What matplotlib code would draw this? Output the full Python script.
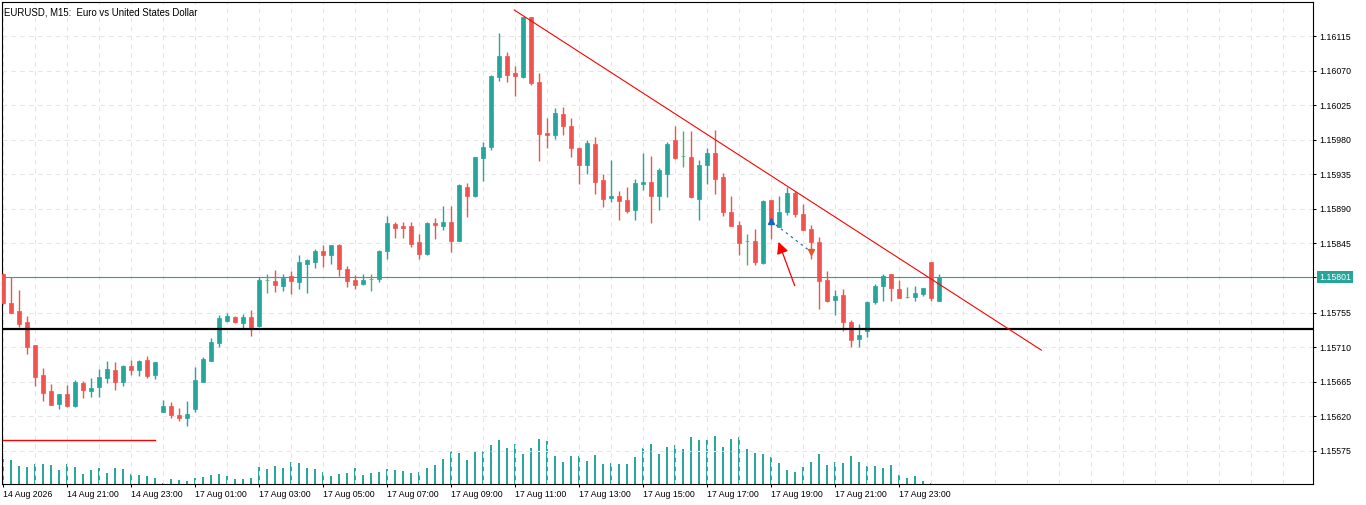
import numpy as np
import matplotlib
matplotlib.use("Agg")
import matplotlib.pyplot as plt

plt.rcParams['font.family'] = ['Liberation Sans', 'DejaVu Sans']

# EURUSD M15 candles, 14 Aug 2026 19:00 -> 18 Aug 00:15 (weekend skipped)
opens = [1.15805, 1.15767, 1.15757, 1.15743, 1.15713, 1.15674, 1.15653, 1.15636, 1.15649, 1.15633,
         1.15663, 1.15653, 1.15658, 1.15670, 1.15680, 1.15665, 1.15685, 1.15680, 1.15693, 1.15674,
         1.15625, 1.15633, 1.15622, 1.15618, 1.15629, 1.15665, 1.15692, 1.15715, 1.15744, 1.15749,
         1.15741, 1.15749, 1.15737, 1.15797, 1.15796, 1.15790, 1.15803, 1.15795, 1.15818, 1.15821,
         1.15835, 1.15830, 1.15843, 1.15812, 1.15797, 1.15792, 1.15799, 1.15799, 1.15835, 1.15870,
         1.15868, 1.15868, 1.15847, 1.15831, 1.15872, 1.15868, 1.15873, 1.15848, 1.15918, 1.15907,
         1.15956, 1.15971, 1.16062, 1.16089, 1.16067, 1.16062, 1.16140, 1.16055, 1.15989, 1.15986,
         1.16014, 1.15998, 1.15969, 1.15947, 1.15974, 1.15928, 1.15904, 1.15907, 1.15902, 1.15889,
         1.15922, 1.15925, 1.15907, 1.15935, 1.15980, 1.15959, 1.15958, 1.15903, 1.15947, 1.15963,
         1.15932, 1.15886, 1.15869, 1.15848, 1.15848, 1.15820, 1.15902, 1.15866, 1.15886, 1.15911,
         1.15883, 1.15864, 1.15847, 1.15797, 1.15771, 1.15778, 1.15743, 1.15721, 1.15731, 1.15769,
         1.15790, 1.15805, 1.15786, 1.15775, 1.15775, 1.15779, 1.15821, 1.15770]
highs = [1.15807, 1.15801, 1.15784, 1.15751, 1.15713, 1.15683, 1.15662, 1.15649, 1.15661, 1.15667,
         1.15666, 1.15670, 1.15681, 1.15692, 1.15691, 1.15687, 1.15693, 1.15693, 1.15698, 1.15691,
         1.15641, 1.15639, 1.15631, 1.15640, 1.15684, 1.15697, 1.15722, 1.15752, 1.15754, 1.15751,
         1.15753, 1.15758, 1.15801, 1.15805, 1.15810, 1.15805, 1.15809, 1.15830, 1.15825, 1.15838,
         1.15843, 1.15843, 1.15844, 1.15816, 1.15804, 1.15805, 1.15805, 1.15836, 1.15881, 1.15873,
         1.15873, 1.15873, 1.15857, 1.15873, 1.15878, 1.15894, 1.15894, 1.15922, 1.15924, 1.15958,
         1.15977, 1.16064, 1.16119, 1.16094, 1.16076, 1.16140, 1.16140, 1.16067, 1.16008, 1.16021,
         1.16023, 1.16008, 1.15971, 1.15980, 1.15984, 1.15935, 1.15954, 1.15913, 1.15918, 1.15929,
         1.15963, 1.15959, 1.15943, 1.15977, 1.15998, 1.15991, 1.15991, 1.15954, 1.15969, 1.15993,
         1.15937, 1.15907, 1.15874, 1.15857, 1.15864, 1.15902, 1.15902, 1.15907, 1.15918, 1.15913,
         1.15896, 1.15869, 1.15853, 1.15809, 1.15784, 1.15786, 1.15745, 1.15740, 1.15770, 1.15792,
         1.15805, 1.15805, 1.15797, 1.15788, 1.15790, 1.15787, 1.15821, 1.15805]
lows = [1.15766, 1.15754, 1.15736, 1.15701, 1.15659, 1.15640, 1.15635, 1.15629, 1.15632, 1.15632,
        1.15644, 1.15645, 1.15645, 1.15663, 1.15654, 1.15659, 1.15674, 1.15672, 1.15670, 1.15668,
        1.15625, 1.15618, 1.15614, 1.15607, 1.15625, 1.15665, 1.15692, 1.15710, 1.15743, 1.15741,
        1.15735, 1.15724, 1.15736, 1.15780, 1.15782, 1.15783, 1.15779, 1.15786, 1.15780, 1.15813,
        1.15814, 1.15818, 1.15803, 1.15788, 1.15786, 1.15791, 1.15783, 1.15795, 1.15825, 1.15852,
        1.15852, 1.15840, 1.15825, 1.15830, 1.15851, 1.15862, 1.15834, 1.15848, 1.15879, 1.15905,
        1.15926, 1.15967, 1.16057, 1.16055, 1.16037, 1.16060, 1.16051, 1.15952, 1.15969, 1.15981,
        1.15986, 1.15958, 1.15922, 1.15935, 1.15909, 1.15892, 1.15899, 1.15876, 1.15885, 1.15876,
        1.15915, 1.15872, 1.15889, 1.15905, 1.15955, 1.15945, 1.15904, 1.15876, 1.15922, 1.15909,
        1.15881, 1.15868, 1.15830, 1.15817, 1.15817, 1.15818, 1.15851, 1.15866, 1.15882, 1.15879,
        1.15862, 1.15825, 1.15760, 1.15769, 1.15752, 1.15731, 1.15710, 1.15710, 1.15723, 1.15766,
        1.15770, 1.15770, 1.15774, 1.15774, 1.15770, 1.15777, 1.15770, 1.15770]
closes = [1.15767, 1.15754, 1.15740, 1.15710, 1.15671, 1.15650, 1.15635, 1.15649, 1.15633, 1.15665,
          1.15654, 1.15657, 1.15671, 1.15681, 1.15665, 1.15685, 1.15680, 1.15692, 1.15672, 1.15691,
          1.15633, 1.15622, 1.15618, 1.15623, 1.15667, 1.15695, 1.15717, 1.15748, 1.15751, 1.15743,
          1.15749, 1.15736, 1.15797, 1.15797, 1.15791, 1.15800, 1.15796, 1.15821, 1.15823, 1.15835,
          1.15830, 1.15843, 1.15812, 1.15796, 1.15791, 1.15797, 1.15799, 1.15835, 1.15872, 1.15865,
          1.15865, 1.15844, 1.15831, 1.15872, 1.15869, 1.15873, 1.15848, 1.15921, 1.15907, 1.15958,
          1.15971, 1.16063, 1.16089, 1.16064, 1.16063, 1.16140, 1.16054, 1.15988, 1.15986, 1.16015,
          1.15998, 1.15969, 1.15947, 1.15976, 1.15925, 1.15903, 1.15907, 1.15900, 1.15887, 1.15924,
          1.15925, 1.15907, 1.15941, 1.15974, 1.15956, 1.15959, 1.15905, 1.15947, 1.15963, 1.15929,
          1.15886, 1.15868, 1.15846, 1.15848, 1.15821, 1.15900, 1.15876, 1.15886, 1.15911, 1.15883,
          1.15862, 1.15847, 1.15796, 1.15770, 1.15777, 1.15743, 1.15719, 1.15726, 1.15769, 1.15790,
          1.15803, 1.15787, 1.15774, 1.15775, 1.15780, 1.15787, 1.15774, 1.15801]
volumes = [300, 284, 212, 200, 236, 236, 224, 164, 236, 200,
           116, 164, 188, 128, 188, 176, 116, 104, 92, 68,
           8, 56, 44, 32, 68, 80, 104, 116, 92, 56,
           56, 68, 200, 176, 212, 188, 260, 248, 188, 176,
           140, 92, 116, 128, 188, 104, 128, 140, 176, 164,
           152, 128, 140, 188, 224, 296, 392, 368, 284, 380,
           392, 464, 524, 428, 476, 356, 428, 536, 512, 332,
           260, 332, 332, 272, 344, 236, 248, 236, 236, 320,
           428, 476, 356, 440, 464, 416, 560, 524, 524, 572,
           440, 536, 560, 416, 368, 356, 320, 248, 164, 140,
           200, 260, 356, 224, 260, 248, 332, 260, 212, 212,
           188, 224, 104, 68, 92, 32, 8, 4]

time_labels = ["14 Aug 2026", "14 Aug 21:00", "14 Aug 23:00", "17 Aug 01:00", "17 Aug 03:00",
               "17 Aug 05:00", "17 Aug 07:00", "17 Aug 09:00", "17 Aug 11:00", "17 Aug 13:00",
               "17 Aug 15:00", "17 Aug 17:00", "17 Aug 19:00", "17 Aug 21:00", "17 Aug 23:00"]
label_bar = [0, 8, 16, 24, 32, 40, 48, 56, 64, 72, 80, 88, 96, 104, 112]
price_ticks = [1.15575, 1.15620, 1.15665, 1.15710, 1.15755, 1.15801, 1.15845, 1.15890,
               1.15935, 1.15980, 1.16025, 1.16070, 1.16115]

# drawings on the chart
support_level = 1.15734
friday_level = 1.15589
friday_end_bar = 19
trend_bars = [63.9, 129.8]
trend_prices = [1.16149, 1.15706]
trade_bars = [96, 101]
trade_prices = [1.15874, 1.15834]
arrow_from = (98.96, 1.15790)
arrow_to = (96.94, 1.15847)

up_col = '#26a69a'
down_col = '#ef5350'
doji_col = '#4caf6e'
grid_col = '#e8e4ea'
fs = 6.3

o = np.array(opens)
h = np.array(highs)
l = np.array(lows)
c = np.array(closes)
idx = np.arange(len(o))
colors = np.where(c > o, up_col, down_col).astype(object)
colors[c == o] = doji_col

fig = plt.figure(figsize=(13.66, 5.05), dpi=100)
ax = fig.add_axes([2.3 / 1366, 21 / 505, 1310.7 / 1366, 481.7 / 505])
ax2 = ax.twinx()

# volumes at the bottom
ax2.vlines(idx, 0, volumes, color=up_col, lw=1.4)
ax2.set_ylim(0, 5780)
ax2.set_yticks([])
for s in ax2.spines.values():
    s.set_visible(False)
ax.set_zorder(ax2.get_zorder() + 1)
ax.patch.set_visible(False)

# grid
ax.set_yticks(price_ticks)
ax.set_xticks(label_bar)
ax.set_xticklabels(time_labels)
ax.set_xticks(np.arange(0, 164, 4), minor=True)
ax.grid(True, which='both', axis='x', color=grid_col, lw=0.8, linestyle=(0, (4, 4)), zorder=0)
ax.grid(True, which='major', axis='y', color=grid_col, lw=0.8, linestyle=(0, (4, 4)), zorder=0)

# candles
ax.vlines(idx, l, h, color=list(colors), lw=1.0, zorder=3)
body_lo = np.minimum(o, c)
body_h = np.maximum(np.abs(c - o), 0.0000001)
ax.bar(idx, body_h, bottom=body_lo, width=0.58, color=list(colors),
       edgecolor=list(colors), linewidth=0.5, zorder=4)

# lines
ax.axhline(closes[-1], color=up_col, lw=0.8, zorder=2)
ax.axhline(support_level, color='black', lw=1.6, zorder=5)
ax.plot([-0.05, friday_end_bar], [friday_level, friday_level], color='red', lw=1.0, zorder=5)
ax.plot(trend_bars, trend_prices, color='red', lw=0.8, zorder=6)

# trade markers
ax.plot(trade_bars, trade_prices, color='#1e6fd0', lw=0.9, linestyle=(0, (2, 3)), zorder=6)
ax.plot(trade_bars[0], trade_prices[0], marker='^', color='#1565c0', ms=5, zorder=7)
ax.plot(trade_bars[1], trade_prices[1], marker='v', color='#e05a2a', ms=5, zorder=7)
ax.annotate('', xy=arrow_to, xytext=arrow_from,
            arrowprops=dict(arrowstyle='-|>,head_length=0.7,head_width=0.35', color='red',
                            lw=0.9, shrinkA=0, shrinkB=0), zorder=7)

ax.set_xlim(-0.09, 163.75)
ax.set_ylim(1.155317, 1.161590)

# axes styling
ax.yaxis.tick_right()
ax.yaxis.set_major_formatter(matplotlib.ticker.FormatStrFormatter('%.5f'))
ax.tick_params(axis='y', which='major', direction='out', length=2.2, width=0.75,
               pad=2.5, labelsize=fs, colors='black')
ax.tick_params(axis='x', which='major', direction='out', length=2.5, width=0.75,
               pad=2.0, labelsize=fs)
ax.tick_params(axis='x', which='minor', length=0)
for t in ax.get_xticklabels():
    t.set_horizontalalignment('left')
for s in ax.spines.values():
    s.set_color('black')
    s.set_linewidth(0.8)

# current price box
ax.annotate(f"{closes[-1]:.5f}", xy=(1, closes[-1]), xycoords=('axes fraction', 'data'),
            xytext=(4.2, 0), textcoords='offset points', ha='left', va='center',
            fontsize=fs, color='white', zorder=10, annotation_clip=False,
            bbox=dict(boxstyle='square,pad=0.2', fc=up_col, ec='none'))

ax.text(0.001, 0.99, "EURUSD, M15:  Euro vs United States Dollar", transform=ax.transAxes,
        ha='left', va='top', fontsize=6.9, color='black')

fig.savefig('out.png', dpi=100, facecolor='white')
